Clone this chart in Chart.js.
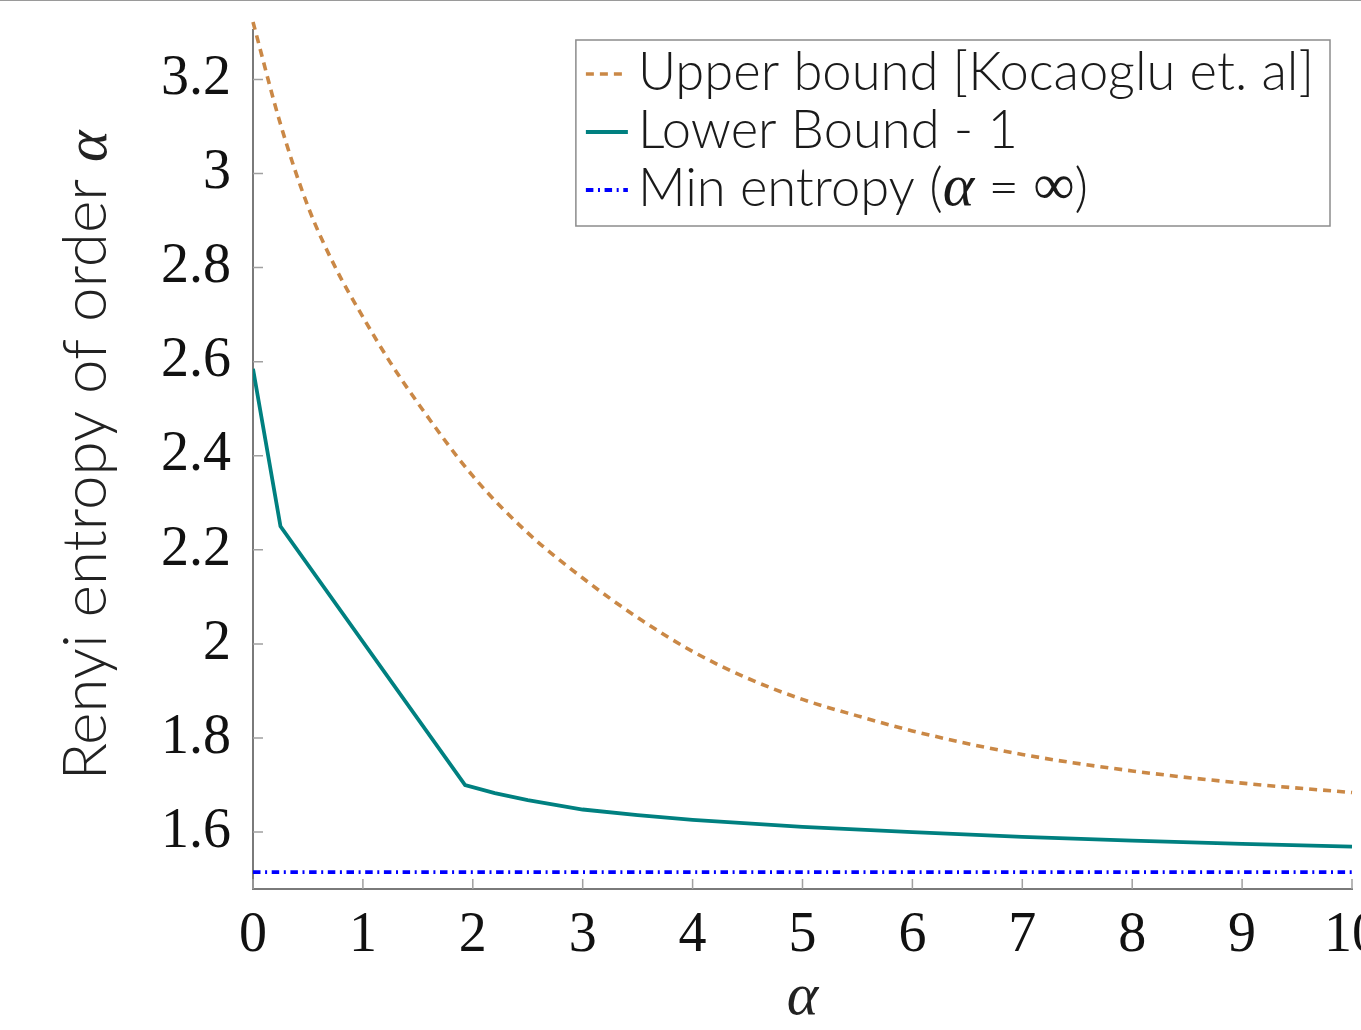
<!DOCTYPE html>
<html>
<head>
<meta charset="utf-8">
<script src="https://cdn.jsdelivr.net/npm/chart.js@4.4.0/dist/chart.umd.min.js"></script>
<style>
  html, body { margin: 0; padding: 0; background: #fff; overflow: hidden; }
  #wrap { position: relative; width: 1400px; height: 1030px; }
  #topline { position: absolute; left: 0; top: 0; width: 1361px; height: 1px; background: #9a9a9a; }
</style>
</head>
<body>
<div id="wrap">
  <div id="topline"></div>
  <canvas id="myChart" width="1400" height="1030"></canvas>
</div>
<script>
// values
const alphaUpper = [0, 0.25, 0.5, 0.75, 1, 1.25, 1.5, 2, 2.5, 3, 3.5, 4, 4.5, 5, 5.5, 6, 7, 8, 9, 10];
const upperBound = [3.322, 3.105, 2.93, 2.80, 2.695, 2.598, 2.512, 2.357, 2.236, 2.14, 2.056, 1.984, 1.927, 1.882, 1.847, 1.815, 1.765, 1.730, 1.704, 1.684];

const alphaLower = [0, 0.25, 1.93, 2.2, 2.5, 3, 3.5, 4, 5, 6, 7, 8, 9, 10];
const lowerBound = [2.585, 2.25, 1.70, 1.683, 1.668, 1.648, 1.636, 1.626, 1.611, 1.600, 1.590, 1.582, 1.575, 1.569];

const alphaMin = [0, 10];
const minEntropy = [1.515, 1.515];

const xTicks = [0, 1, 2, 3, 4, 5, 6, 7, 8, 9, 10];
const yTicks = [1.6, 1.8, 2, 2.2, 2.4, 2.6, 2.8, 3, 3.2];

const legendLabels = ['Upper bound [Kocaoglu et. al]', 'Lower Bound - 1', 'Min entropy (α = ∞)'];
const yTitle = 'Renyi entropy of order α';

function toPoints(xs, ys) {
  let pts = [];
  for(let i = 0; i < xs.length; i++) {
    pts.push({x: xs[i], y: ys[i]});
  }
  return pts;
}

const serif = "'Liberation Serif', 'DejaVu Serif', serif";
const sans = "Lato, 'Open Sans', sans-serif";

// math symbols in serif (alpha italic), everything else in Lato light
function fontFor(ch, size) {
  if(ch === 'α') return Chart.helpers.toFont({family: serif, style: 'italic', size: 60}).string;
  if(ch === '∞') return Chart.helpers.toFont({family: serif, size: Math.round(size * 1.1)}).string;
  return Chart.helpers.toFont({family: sans, weight: 300, size: size}).string;
}

function splitRuns(text, size) {
  let runs = [];
  for(const ch of text) {
    const f = fontFor(ch, size);
    if(runs.length && runs[runs.length - 1].font === f) {
      runs[runs.length - 1].text += ch;
    } else {
      runs.push({text: ch, font: f});
    }
  }
  return runs;
}

function measureRuns(ctx, runs) {
  let w = 0;
  runs.forEach(r => { ctx.font = r.font; w += ctx.measureText(r.text).width; });
  return w;
}

function drawRuns(ctx, runs, x, y) {
  runs.forEach(r => {
    ctx.font = r.font;
    ctx.fillText(r.text, x, y);
    x += ctx.measureText(r.text).width;
  });
}

// small inward tick marks like pgfplots
const tickMarks = {
  id: 'tickMarks',
  afterDatasetsDraw(chart) {
    const {ctx, chartArea, scales} = chart;
    ctx.save();
    ctx.strokeStyle = '#a0a0a0';
    ctx.lineWidth = 1.5;
    ctx.beginPath();
    xTicks.forEach(v => {
      const px = scales.x.getPixelForValue(v);
      ctx.moveTo(px, chartArea.bottom);
      ctx.lineTo(px, chartArea.bottom - 10);
    });
    yTicks.forEach(v => {
      const py = scales.y.getPixelForValue(v);
      ctx.moveTo(chartArea.left, py);
      ctx.lineTo(chartArea.left + 10, py);
    });
    ctx.stroke();
    ctx.restore();
  }
};

// rotated y title with a serif alpha
const yAxisTitle = {
  id: 'yAxisTitle',
  afterDraw(chart) {
    const {ctx, chartArea} = chart;
    const runs = splitRuns(yTitle, 62);
    ctx.save();
    ctx.fillStyle = '#222';
    ctx.textBaseline = 'alphabetic';
    ctx.textAlign = 'left';
    const w = measureRuns(ctx, runs);
    ctx.translate(106, (chartArea.top + chartArea.bottom) / 2 - 4);
    ctx.rotate(-Math.PI / 2);
    drawRuns(ctx, runs, -w / 2, 0);
    ctx.restore();
  }
};

// boxed legend in the upper right corner
const boxLegend = {
  id: 'boxLegend',
  afterDraw(chart) {
    const {ctx, chartArea} = chart;
    const sets = chart.data.datasets;
    const fontSize = 52.5;
    const rowH = 58;
    const sampleW = 42;
    ctx.save();
    let maxW = 0;
    sets.forEach(ds => { maxW = Math.max(maxW, measureRuns(ctx, splitRuns(ds.label, fontSize))); });
    const boxW = 10 + sampleW + 10 + maxW + 16;
    const boxH = rowH * sets.length + 12;
    const right = chartArea.right - 22;
    const top = chartArea.top + 10;
    const left = right - boxW;
    ctx.strokeStyle = '#8c8c8c';
    ctx.lineWidth = 1.5;
    ctx.strokeRect(left, top, boxW, boxH);
    sets.forEach((ds, i) => {
      const cy = top + 33 + i * rowH;
      ctx.save();
      ctx.beginPath();
      ctx.setLineDash(ds.borderDash || []);
      ctx.strokeStyle = ds.borderColor;
      ctx.lineWidth = ds.borderWidth;
      ctx.moveTo(left + 10, cy + 1);
      ctx.lineTo(left + 10 + sampleW, cy + 1);
      ctx.stroke();
      ctx.restore();
      ctx.fillStyle = '#1a1a1a';
      ctx.textBaseline = 'middle';
      ctx.textAlign = 'left';
      drawRuns(ctx, splitRuns(ds.label, fontSize), left + 10 + sampleW + 10, cy);
    });
    ctx.restore();
  }
};

const chartConfig = document.getElementById('myChart');

const myChart = new Chart(chartConfig, {
  type: 'line',
  data: {
    datasets: [{
      label: legendLabels[0],
      data: toPoints(alphaUpper, upperBound),
      borderColor: 'rgb(202, 136, 70)',
      borderWidth: 3.6,
      borderDash: [8, 6],
      pointRadius: 0,
      fill: false,
      cubicInterpolationMode: 'monotone',
      clip: false
    }, {
      label: legendLabels[1],
      data: toPoints(alphaLower, lowerBound),
      borderColor: '#008080',
      borderWidth: 3.8,
      pointRadius: 0,
      fill: false,
      tension: 0
    }, {
      label: legendLabels[2],
      data: toPoints(alphaMin, minEntropy),
      borderColor: '#0000ff',
      borderWidth: 3.8,
      borderDash: [7.5, 4.6, 2, 4.6],
      pointRadius: 0,
      fill: false,
      tension: 0
    }]
  },
  options: {
    responsive: false,
    animation: false,
    layout: {
      padding: {top: 30, right: 48, left: 0, bottom: 0}
    },
    plugins: {
      legend: {
        display: false
      },
      tooltip: {
        enabled: false
      }
    },
    scales: {
      x: {
        type: 'linear',
        min: 0,
        max: 10,
        afterBuildTicks: (scale) => {
          scale.ticks = xTicks.map(v => ({value: v}));
        },
        afterFit: (scale) => {
          scale.height = 141;
          scale.paddingLeft = 0;
          scale.paddingRight = 0;
        },
        grid: {
          display: false,
          drawTicks: false
        },
        border: {
          display: true,
          color: '#7a7a7a',
          width: 2
        },
        ticks: {
          color: '#111',
          padding: 14,
          maxRotation: 0,
          font: {
            family: serif,
            size: 56
          },
          callback: (v) => String(v)
        },
        title: {
          display: true,
          text: 'α',
          color: '#222',
          padding: {top: 0, bottom: 2},
          font: {
            family: serif,
            style: 'italic',
            size: 60,
            lineHeight: 1
          }
        }
      },
      y: {
        min: 1.479,
        max: 3.305,
        afterBuildTicks: (scale) => {
          scale.ticks = yTicks.map(v => ({value: v}));
        },
        afterFit: (scale) => {
          scale.width = 253;
          scale.paddingTop = 0;
          scale.paddingBottom = 0;
        },
        grid: {
          display: false,
          drawTicks: false
        },
        border: {
          display: true,
          color: '#7a7a7a',
          width: 2
        },
        ticks: {
          color: '#111',
          padding: 22,
          font: {
            family: serif,
            size: 56
          },
          callback: (v) => String(v)
        }
      }
    }
  },
  plugins: [tickMarks, yAxisTitle, boxLegend]
});
</script>
</body>
</html>
